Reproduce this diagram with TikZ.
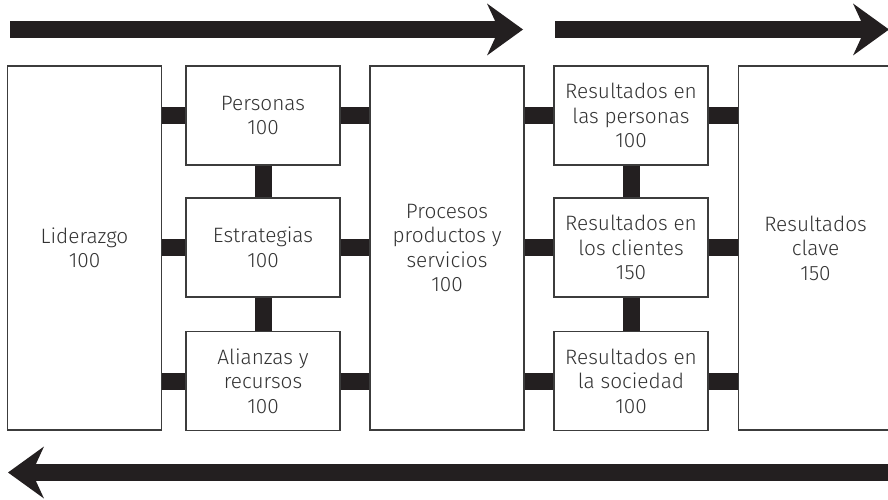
\documentclass[tikz,border=0pt]{standalone}
\usepackage{fontspec}
\setmainfont{Fira Sans}[UprightFont=* Light]
\usetikzlibrary{arrows.meta}
\definecolor{barblack}{HTML}{231F20}
\definecolor{boxline}{HTML}{3C3C3C}
\definecolor{txtgray}{HTML}{333333}

\begin{document}
\begin{tikzpicture}[x=1pt,y=-1pt,
  box/.style={draw=boxline,line width=1.2pt,fill=white,align=center,text=txtgray,
    minimum width=154pt,inner sep=0pt,font=\fontsize{20.8}{24.5}\selectfont},
  small/.style={box,minimum height=99pt},
  tall/.style={box,minimum height=364pt},
  bar/.style={draw=barblack,line width=17pt},
  flow/.style={draw=barblack,line width=16.5pt,
    -{Stealth[length=36pt,width=52pt,inset=12pt,line width=0pt]}}]
\useasboundingbox (0,0) rectangle (888,500);
% cajas
\node[tall] (lid) at (84.5,248) {Liderazgo\\100};
\node[small] (per) at (263,115.5) {Personas\\100};
\node[small] (est) at (263,247.5) {Estrategias\\100};
\node[small] (ali) at (263,381) {Alianzas y\\recursos\\100};
\node[tall] (pro) at (447,248) {Procesos\\productos y\\servicios\\100};
\node[small] (rpe) at (631,115.5) {Resultados en\\las personas\\100};
\node[small] (rcl) at (631,247.5) {Resultados en\\los clientes\\150};
\node[small] (rso) at (631,381) {Resultados en\\la sociedad\\100};
\node[tall] (cla) at (815.5,248) {Resultados\\clave\\150};
% uniones
\foreach \n in {per,est,ali}{
  \draw[bar] (lid.east |- \n) -- (\n.west);
  \draw[bar] (\n.east) -- (pro.west |- \n);
}
\foreach \n in {rpe,rcl,rso}{
  \draw[bar] (pro.east |- \n) -- (\n.west);
  \draw[bar] (\n.east) -- (cla.west |- \n);
}
\draw[bar] (per.south) -- (est.north) (est.south) -- (ali.north);
\draw[bar] (rpe.south) -- (rcl.north) (rcl.south) -- (rso.north);
% flechas
\coordinate (f1a) at (10,29.5); \coordinate (f1b) at (523,29.5);
\coordinate (f2a) at (555,29.5); \coordinate (f2b) at (889,29.5);
\coordinate (f3a) at (890,472.5); \coordinate (f3b) at (8,472.5);
\draw[flow] (f1a) -- (f1b);
\draw[flow] (f2a) -- (f2b);
\draw[flow] (f3a) -- (f3b);
\end{tikzpicture}
\end{document}
